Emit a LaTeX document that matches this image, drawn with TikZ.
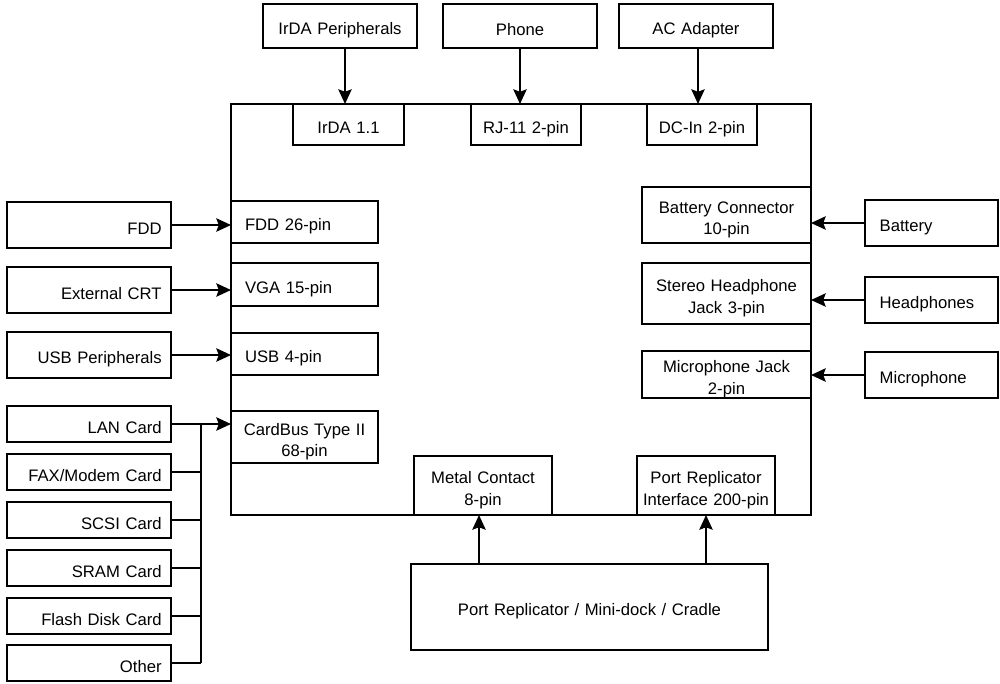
\documentclass[tikz,border=0pt]{standalone}
\usepackage{fontspec}
\setmainfont{Liberation Sans}
\usetikzlibrary{arrows.meta,calc}
\tikzset{
  blk/.style={draw=black, line width=1.5pt, inner ysep=0pt, outer sep=0pt,
    font=\fontsize{12.5}{16}\selectfont,
    execute at begin node={\rule{0pt}{16pt}},
    execute at end node={\rule[-2.5pt]{0pt}{2.5pt}}},
  arr/.style={draw=black, line width=1.5pt, -{Stealth[length=11pt,width=10pt,inset=1.8pt]}},
  wire/.style={draw=black, line width=1.5pt},
}
\newcommand\pbox[8]{%
  \pgfmathsetmacro\pbW{(#4-#2)*0.75}%
  \pgfmathsetmacro\pbH{(#5-#3)*0.75}%
  \pgfmathsetmacro\pbT{\pbW-2*#7}%
  \node[blk, align=#6, inner xsep=#7pt, minimum width=\pbW pt, minimum height=\pbH pt, text width=\pbT pt, anchor=north west] (#1) at (#2,#3) {#8};}
\begin{document}
\begin{tikzpicture}[x=0.75pt,y=-0.75pt]
\fill[white] (0,0) rectangle (1000,683);
\useasboundingbox (0,0) rectangle (1000,683);
% main unit
\pbox{main}{231}{104}{811}{515}{center}{3}{}
% top
\pbox{irdap}{263}{4}{417}{48}{center}{3}{IrDA Peripherals}
\pbox{phone}{443}{4}{597}{48}{center}{3}{Phone}
\pbox{acad}{619}{4}{773}{48}{center}{3}{AC Adapter}
\pbox{irda}{293}{104}{404}{145}{center}{3}{IrDA 1.1}
\pbox{rj}{471}{104}{581}{145}{center}{3}{RJ-11 2-pin}
\pbox{dcin}{647}{104}{757}{145}{center}{3}{DC-In 2-pin}
% left
\pbox{fdd}{7}{202}{171}{248}{right}{7}{FDD}
\pbox{crt}{7}{267}{171}{313}{right}{7}{External CRT}
\pbox{usbp}{7}{332}{171}{378}{right}{7}{USB Peripherals}
\pbox{fddpin}{231}{201}{378}{243}{left}{10.5}{FDD 26-pin}
\pbox{vga}{231}{263}{378}{306}{left}{10.5}{VGA 15-pin}
\pbox{usb}{231}{333}{378}{375}{left}{10.5}{USB 4-pin}
\pbox{cardbus}{231}{411}{378}{463}{center}{3}{CardBus Type II\\68-pin}
% cards
\pbox{lan}{7}{406}{171}{442}{right}{7}{LAN Card}
\pbox{fax}{7}{454}{171}{490}{right}{7}{FAX/Modem Card}
\pbox{scsi}{7}{502}{171}{538}{right}{7}{SCSI Card}
\pbox{sram}{7}{550}{171}{586}{right}{7}{SRAM Card}
\pbox{flash}{7}{598}{171}{634}{right}{7}{Flash Disk Card}
\pbox{other}{7}{645}{171}{681}{right}{7}{Other}
% right
\pbox{batconn}{642}{187}{811}{243}{center}{3}{Battery Connector\\10-pin}
\pbox{hpjack}{642}{263}{811}{324}{center}{3}{Stereo Headphone\\Jack 3-pin}
\pbox{micjack}{642}{351}{811}{398}{center}{3}{Microphone Jack\\2-pin}
\pbox{battery}{865}{200}{998}{246}{left}{11}{Battery}
\pbox{headph}{865}{277}{998}{323}{left}{11}{Headphones}
\pbox{micro}{865}{352}{998}{398}{left}{11}{Microphone}
% bottom
\pbox{metal}{414}{456}{552}{515}{center}{3}{Metal Contact\\8-pin}
\pbox{pri}{637}{456}{775}{515}{center}{3}{Port Replicator\\Interface 200-pin}
\pbox{portrep}{411}{564}{768}{650}{center}{3}{Port Replicator / Mini-dock / Cradle}
% connectors
\draw[arr] ([xshift=3.75pt]irdap.south) -- ([xshift=3.75pt]irdap.south |- main.north);
\draw[arr] (phone.south) -- (phone.south |- main.north);
\draw[arr] ([xshift=1.5pt]acad.south) -- ([xshift=1.5pt]acad.south |- main.north);
\foreach \n in {fdd,crt,usbp}
  \draw[arr] (\n.east) -- (\n.east -| main.west);
\foreach \n in {battery,headph,micro}
  \draw[arr] (\n.west) -- (\n.west -| main.east);
\draw[arr] ([xshift=-3pt]portrep.north -| metal.south) -- ([xshift=-3pt]metal.south);
\draw[arr] (portrep.north -| pri.south) -- (pri.south);
\coordinate (bus) at (201,0);
\draw[arr] (lan.east) -- (lan.east -| cardbus.west);
\draw[wire] (lan.east -| bus) -- (other.east -| bus);
\foreach \n in {fax,scsi,sram,flash,other}
  \draw[wire] (\n.east) -- (\n.east -| bus);
\end{tikzpicture}
\end{document}
